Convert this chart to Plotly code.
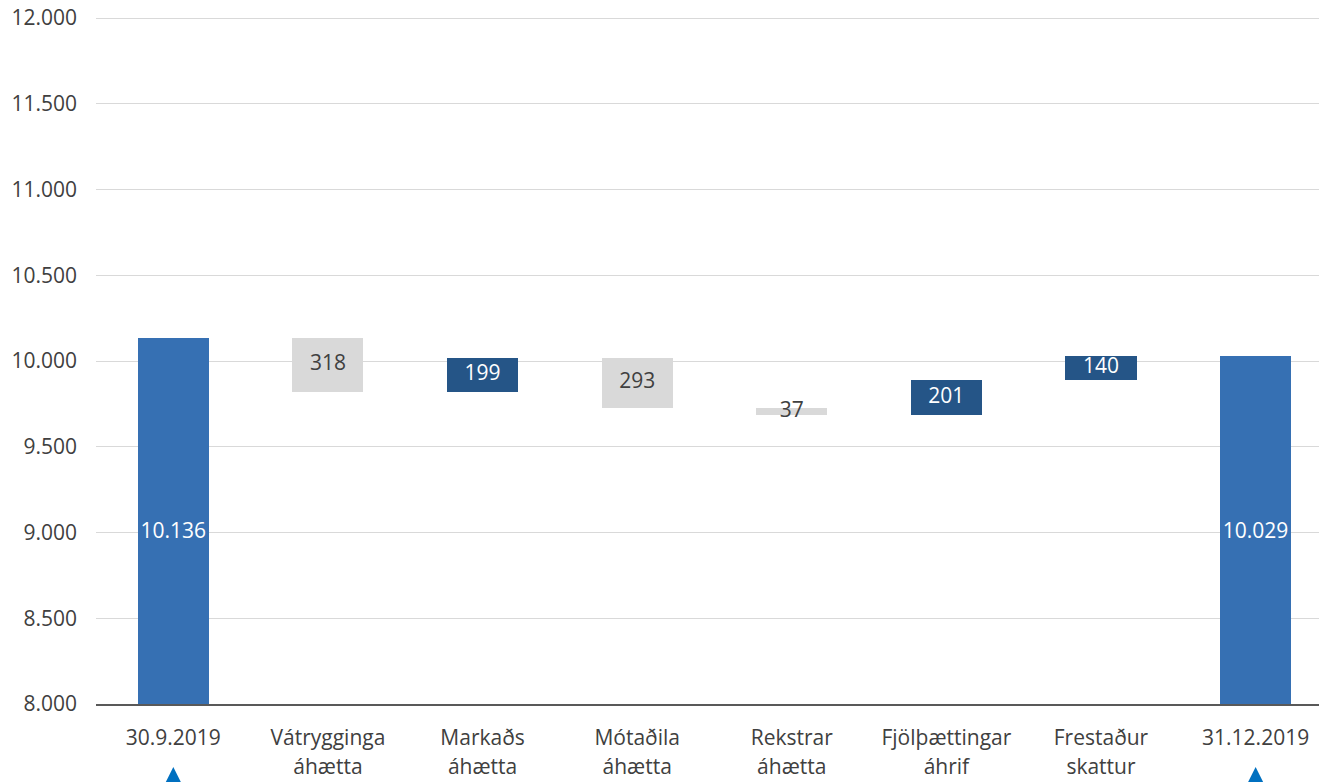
import plotly.graph_objects as go

cat_line1 = ["30.9.2019", "Vátrygginga", "Markaðs", "Mótaðila", "Rekstrar", "Fjölþættingar", "Frestaður", "31.12.2019"]
cat_line2 = ["", "áhætta", "áhætta", "áhætta", "áhætta", "áhrif", "skattur", ""]
changes = [10136, -318, 199, -293, -37, 201, 140, 10029]
kinds = ["total", "delta", "delta", "delta", "delta", "delta", "delta", "total"]
value_labels = ["10.136", "318", "199", "293", "37", "201", "140", "10.029"]
y_ticks = [8000, 8500, 9000, 9500, 10000, 10500, 11000, 11500, 12000]

Y_MIN, Y_MAX = 8000, 12000
C_TOTAL = "#3670B3"
C_UP = "#255587"
C_DOWN = "#D9D9D9"
TXT = "#404040"
FONT = "Open Sans"
FS = 21

xs = list(range(len(cat_line1)))

bases, heights, colors, mids, tcolors = [], [], [], [], []
running = 0
for v, k in zip(changes, kinds):
    if k == "total":
        running = v
        bases.append(0)
        heights.append(v)
        colors.append(C_TOTAL)
        mids.append(Y_MIN + 0.25 * (Y_MAX - Y_MIN))
        tcolors.append("white")
    else:
        start = running
        running = running + v
        lo = min(start, running)
        bases.append(lo)
        heights.append(abs(v))
        colors.append(C_UP if v > 0 else C_DOWN)
        mids.append(lo + abs(v) / 2)
        tcolors.append("white" if v > 0 else TXT)

fig = go.Figure()
fig.add_trace(go.Bar(x=xs, y=heights, base=bases, marker=dict(color=colors, line=dict(width=0)),
                     width=0.46, hoverinfo="skip", showlegend=False))
fig.add_trace(go.Scatter(x=xs, y=mids, mode="text", text=value_labels,
                         textfont=dict(family=FONT, size=FS, color=tcolors),
                         textposition="middle center", hoverinfo="skip", showlegend=False))
# carrier for the second line of category labels
fig.add_trace(go.Scatter(x=xs, y=[None] * len(xs), xaxis="x2", mode="markers",
                         hoverinfo="skip", showlegend=False))

for i in [xs[0], xs[-1]]:
    fig.add_annotation(x=i, xref="x", y=-0.0916, yref="paper", text="", showarrow=True,
                       ax=0, ay=40, arrowhead=2, arrowsize=1.9, arrowwidth=2.5,
                       arrowcolor="#0070C0")

XR = [-0.5, 7.41]
YR = [Y_MIN, Y_MAX + 12]  # keep the 12.000 gridline just inside the plot area
fig.update_layout(
    width=1319, height=782,
    margin=dict(l=96, r=0, t=16, b=78, autoexpand=False),
    plot_bgcolor="white", paper_bgcolor="white",
    separators=",.",
    bargap=0,
    font=dict(family=FONT, size=FS, color=TXT),
    xaxis=dict(range=XR, tickmode="array", tickvals=xs, ticktext=cat_line1,
               showgrid=False, zeroline=False, showline=True, automargin=False,
               ticklabeloverflow="allow",
               linecolor="#595959", linewidth=1.5, ticks="", ticklabelstandoff=14,
               tickfont=dict(family=FONT, size=FS, color=TXT)),
    xaxis2=dict(range=XR, overlaying="x", side="bottom", anchor="y", tickmode="array",
                tickvals=xs, ticktext=cat_line2, showgrid=False, zeroline=False,
                showline=False, ticks="", ticklabelstandoff=48, automargin=False,
                ticklabeloverflow="allow",
                tickfont=dict(family=FONT, size=FS, color=TXT)),
    yaxis=dict(range=YR, tickmode="array", tickvals=y_ticks, tickformat=",.0f",
               showgrid=True, gridcolor="#D9D9D9", gridwidth=1, zeroline=False, showline=False,
               ticks="", ticklabelstandoff=18, automargin=False, ticklabeloverflow="allow",
               tickfont=dict(family=FONT, size=FS, color=TXT)),
)

fig.write_html("out.html", config={"displayModeBar": False},
               post_script="document.body.style.margin='0';document.body.style.overflow='hidden';")
